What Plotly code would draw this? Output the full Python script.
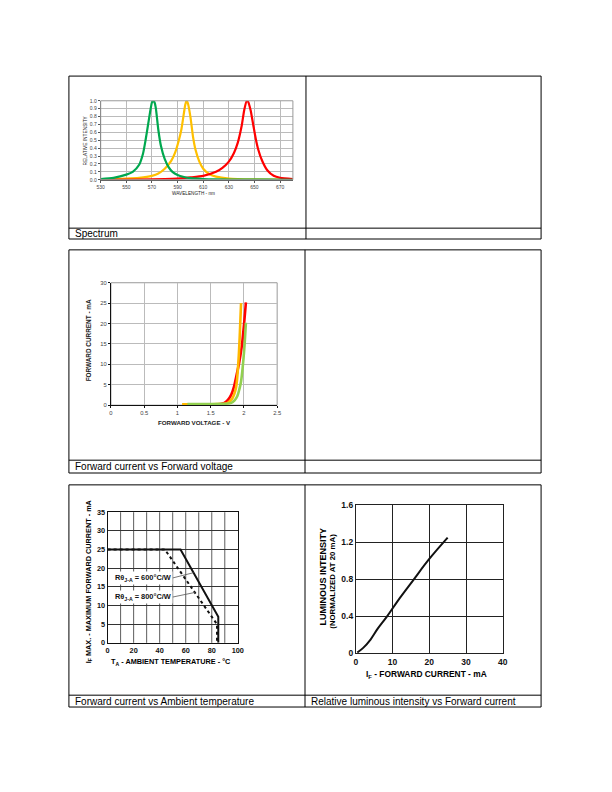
import plotly.graph_objects as go

W, H = 612, 792

# ---------------- data ----------------
# Spectrum
wl_green = [530, 540, 550, 555, 560, 563, 565, 567, 569, 570, 571, 572, 573, 575, 577, 580, 583, 586, 590, 595, 600, 610, 620, 640, 660, 680]
int_green = [0.01, 0.025, 0.065, 0.1, 0.19, 0.33, 0.5, 0.7, 0.9, 0.98, 1.0, 0.98, 0.91, 0.63, 0.43, 0.26, 0.16, 0.1, 0.06, 0.035, 0.02, 0.01, 0.005, 0.002, 0.001, 0.0]
wl_yellow = [530, 550, 560, 570, 575, 580, 585, 588, 591, 593, 595, 596, 597, 598, 600, 602, 604, 607, 610, 615, 620, 630, 650, 680]
int_yellow = [0.005, 0.015, 0.025, 0.05, 0.08, 0.14, 0.24, 0.34, 0.5, 0.64, 0.85, 0.95, 1.0, 0.97, 0.8, 0.55, 0.38, 0.23, 0.14, 0.07, 0.04, 0.015, 0.004, 0.002]
wl_red = [530, 560, 580, 590, 600, 610, 620, 625, 630, 634, 637, 640, 642, 644, 645, 647, 649, 651, 653, 656, 660, 665, 670, 680]
int_red = [0.0, 0.003, 0.008, 0.015, 0.03, 0.05, 0.1, 0.15, 0.23, 0.34, 0.47, 0.68, 0.88, 1.0, 0.99, 0.88, 0.7, 0.52, 0.38, 0.24, 0.12, 0.05, 0.025, 0.01]

# Forward current vs forward voltage
vf_yellow = [1.07, 1.3, 1.6, 1.75, 1.82, 1.88, 1.92, 1.94, 1.957]
if_yellow = [0.2, 0.2, 0.25, 0.5, 1.5, 4.2, 11.4, 18, 25]
vf_red = [1.2, 1.5, 1.65, 1.7, 1.76, 1.81, 1.85, 1.89, 1.93, 1.97, 2.0, 2.03]
if_red = [0.1, 0.2, 0.3, 0.5, 1.3, 2.6, 4.5, 7.4, 10.5, 14.7, 19.5, 25.2]
vf_green = [1.15, 1.4, 1.7, 1.8, 1.86, 1.9, 1.93, 1.957, 1.98, 2.006, 2.03]
if_green = [0.3, 0.3, 0.35, 0.5, 1.2, 2.2, 3.8, 5.8, 9, 13.9, 20.2]

# Derating
ta_600 = [0, 56, 85, 85]
ifmax_600 = [25, 25, 7, 0]
ta_800 = [0, 44, 84, 84]
ifmax_800 = [25, 25, 5, 0]

# Luminous intensity
if_lum = [0.4, 2, 4, 6, 8.5, 12, 15.6, 20, 25]
lum_rel = [0.01, 0.06, 0.15, 0.27, 0.4, 0.6, 0.79, 1.02, 1.25]

captions = ["Spectrum", "Forward current vs Forward voltage",
            "Forward current vs Ambient temperature",
            "Relative luminous intensity vs Forward current"]


def px(x):
    return x / W


def py(y):
    return 1 - y / H


FONT = "Liberation Sans, Arial, sans-serif"

fig = go.Figure()

# Spectrum traces (green drawn last, on top)
for xs, ys, c in [(wl_yellow, int_yellow, "#FFC000"), (wl_red, int_red, "#FF0000"), (wl_green, int_green, "#00A84F")]:
    fig.add_trace(go.Scatter(x=xs, y=ys, mode="lines", line=dict(color=c, width=2.2, shape="spline", smoothing=0.6),
                             xaxis="x", yaxis="y", showlegend=False, hoverinfo="skip"))

# VI traces
for xs, ys, c in [(vf_red, if_red, "#FF0000"), (vf_yellow, if_yellow, "#FFB800"), (vf_green, if_green, "#92D050")]:
    fig.add_trace(go.Scatter(x=xs, y=ys, mode="lines", line=dict(color=c, width=2.6, shape="spline", smoothing=0.8),
                             xaxis="x2", yaxis="y2", showlegend=False, hoverinfo="skip"))

# Derating traces
fig.add_trace(go.Scatter(x=ta_600, y=ifmax_600, mode="lines", line=dict(color="#111", width=2),
                         xaxis="x3", yaxis="y3", showlegend=False, hoverinfo="skip"))
fig.add_trace(go.Scatter(x=ta_800, y=ifmax_800, mode="lines", line=dict(color="#111", width=2, dash="dot"),
                         xaxis="x3", yaxis="y3", showlegend=False, hoverinfo="skip"))

# Luminous
fig.add_trace(go.Scatter(x=if_lum, y=lum_rel, mode="lines", line=dict(color="#111", width=2, shape="spline"),
                         xaxis="x4", yaxis="y4", showlegend=False, hoverinfo="skip"))

small = dict(family=FONT, size=5, color="#444")
vi_tick = dict(family=FONT, size=5.8, color="#444")
bold6 = dict(family=FONT, size=7.3, color="#111", weight="bold")
bold7 = dict(family=FONT, size=8.5, color="#111", weight="bold")

layout = dict(
    width=W, height=H, margin=dict(l=0, r=0, t=0, b=0),
    paper_bgcolor="white", plot_bgcolor="white", showlegend=False,
    # spectrum
    xaxis=dict(domain=[px(98.3), px(293.7)], anchor="y", range=[530, 680], tick0=530, dtick=20,
               showgrid=True, gridcolor="#BBBBBB", gridwidth=1, showline=True, linecolor="#555", linewidth=1,
               ticks="outside", ticklen=2, tickcolor="#555", tickfont=small, zeroline=False),
    yaxis=dict(domain=[py(177), py(97)], anchor="x", range=[0, 1.0], dtick=0.1, tickformat=".1f",
               showgrid=True, gridcolor="#BBBBBB", gridwidth=1, showline=True, linecolor="#555", linewidth=1,
               ticks="outside", ticklen=2, tickcolor="#555", tickfont=small, zeroline=False),
    # VI
    xaxis2=dict(domain=[px(108.7), px(277.7)], anchor="y2", range=[0, 2.5], dtick=0.5,
                showgrid=True, gridcolor="#BBBBBB", gridwidth=1, showline=True, linecolor="#111", linewidth=1,
                ticks="outside", ticklen=2, tickcolor="#111", tickfont=vi_tick, zeroline=False),
    yaxis2=dict(domain=[py(405.3), py(281.3)], anchor="x2", range=[0, 30], dtick=5,
                showgrid=True, gridcolor="#BBBBBB", gridwidth=1, showline=True, linecolor="#111", linewidth=1,
                ticks="outside", ticklen=2, tickcolor="#111", tickfont=vi_tick, zeroline=False),
    # derating
    xaxis3=dict(domain=[px(105.3), px(237.7)], anchor="y3", range=[0, 100], tickvals=[0, 20, 40, 60, 80, 100],
                showgrid=False, showline=True, linecolor="#111", linewidth=1, mirror=True,
                ticks="", tickfont=bold6, zeroline=False),
    yaxis3=dict(domain=[py(646), py(513.7)], anchor="x3", range=[0, 35], dtick=5,
                showgrid=True, gridcolor="#333", gridwidth=0.8, showline=True, linecolor="#111", linewidth=1,
                mirror=True, ticks="", tickfont=bold6, zeroline=False),
    # luminous
    xaxis4=dict(domain=[px(357.7), px(507)], anchor="y4", range=[0, 40], dtick=10,
                showgrid=True, gridcolor="#222", gridwidth=1, showline=True, linecolor="#222", linewidth=1,
                mirror=True, ticks="", tickfont=bold7, zeroline=False),
    yaxis4=dict(domain=[py(656.7), py(506.7)], anchor="x4", range=[0, 1.6],
                tickvals=[0, 0.4, 0.8, 1.2, 1.6], ticktext=["0", "0.4", "0.8", "1.2", "1.6"],
                showgrid=True, gridcolor="#222", gridwidth=1, showline=True, linecolor="#222", linewidth=1,
                mirror=True, ticks="", tickfont=bold7, zeroline=False),
)
fig.update_layout(**layout)

shapes = []


def line(x0, y0, x1, y1, w=1, c="black"):
    shapes.append(dict(type="line", xref="paper", yref="paper", x0=px(x0), y0=py(y0), x1=px(x1), y1=py(y1),
                       line=dict(color=c, width=w)))


# table frames
for top, cap, bot, mid in [(72, 226, 237, 307), (248, 461, 474, 306), (486, 699, 711, 306)]:
    shapes.append(dict(type="rect", xref="paper", yref="paper", x0=px(66), y0=py(bot), x1=px(546), y1=py(top),
                       line=dict(color="black", width=1)))
    line(66, cap, 546, cap)
    line(mid, top, mid, bot)

# spectrum plot border
shapes.append(dict(type="rect", xref="x domain", yref="y domain", x0=0, y0=0, x1=1, y1=1,
                   line=dict(color="#999", width=1)))
# VI plot border
shapes.append(dict(type="rect", xref="x2 domain", yref="y2 domain", x0=0, y0=0, x1=1, y1=1,
                   line=dict(color="#999", width=1), layer="below"))

# derating vertical grid every 10
for xv in range(10, 100, 10):
    shapes.append(dict(type="line", xref="x3", yref="y3 domain", x0=xv, x1=xv, y0=0, y1=1,
                       line=dict(color="#333", width=0.8), layer="below"))
# derating leader lines
shapes.append(dict(type="line", xref="x3", yref="y3", x0=49, y0=17.3, x1=66, y1=18.8,
                   line=dict(color="#555", width=0.8)))
shapes.append(dict(type="line", xref="x3", yref="y3", x0=49, y0=12.2, x1=67, y1=13.5,
                   line=dict(color="#555", width=0.8)))

annotations = []


def text(x, y, t, size, angle=0, bold=False, anchor="center", color="black"):
    annotations.append(dict(xref="paper", yref="paper", x=px(x), y=py(y), text=t, showarrow=False,
                            textangle=angle, xanchor=anchor, yanchor="middle",
                            font=dict(family=FONT, size=size, color=color, weight="bold" if bold else "normal")))


# captions
text(70.5, 231, captions[0], 10, anchor="left")
text(70.5, 467, captions[1], 10, anchor="left")
text(70.5, 705, captions[2], 10, anchor="left")
text(310.5, 705, captions[3], 10, anchor="left")

# spectrum titles
text(82.5, 137, "RELATIVE INTENSITY", 4.8, angle=-90, color="#222")
text(193, 191, "WAVELENGTH - nm", 4.7, color="#222")

# VI titles
text(86, 340, "FORWARD CURRENT - mA", 6.4, angle=-90, bold=True, color="#222")
text(194, 423, "FORWARD VOLTAGE - V", 6.2, bold=True, color="#222")

# derating titles
text(86, 584, "I<sub>F</sub> MAX. - MAXIMUM FORWARD CURRENT - mA", 7.3, angle=-90, bold=True)
text(169.5, 665, "T<sub>A</sub> - AMBIENT TEMPERATURE - °C", 7.3, bold=True)

# luminous titles
text(324.5, 578.5, "LUMINOUS INTENSITY", 9, angle=-90, bold=True)
text(334, 583.5, "(NORMALIZED AT 20 mA)", 7.8, angle=-90, bold=True)
text(430, 678, "I<sub>F</sub> - FORWARD CURRENT - mA", 8.4, bold=True)

# derating labels
for yv, t in [(17.3, "Rθ<sub>J-A</sub> = 600°C/W"), (12.2, "Rθ<sub>J-A</sub> = 800°C/W")]:
    annotations.append(dict(xref="x3", yref="y3", x=4.0, y=yv, text=t, showarrow=False, xanchor="left",
                            yanchor="middle", bgcolor="white",
                            font=dict(family=FONT, size=7.4, color="#111", weight="bold")))

fig.update_layout(shapes=shapes, annotations=annotations)

fig.write_html("out.html")
